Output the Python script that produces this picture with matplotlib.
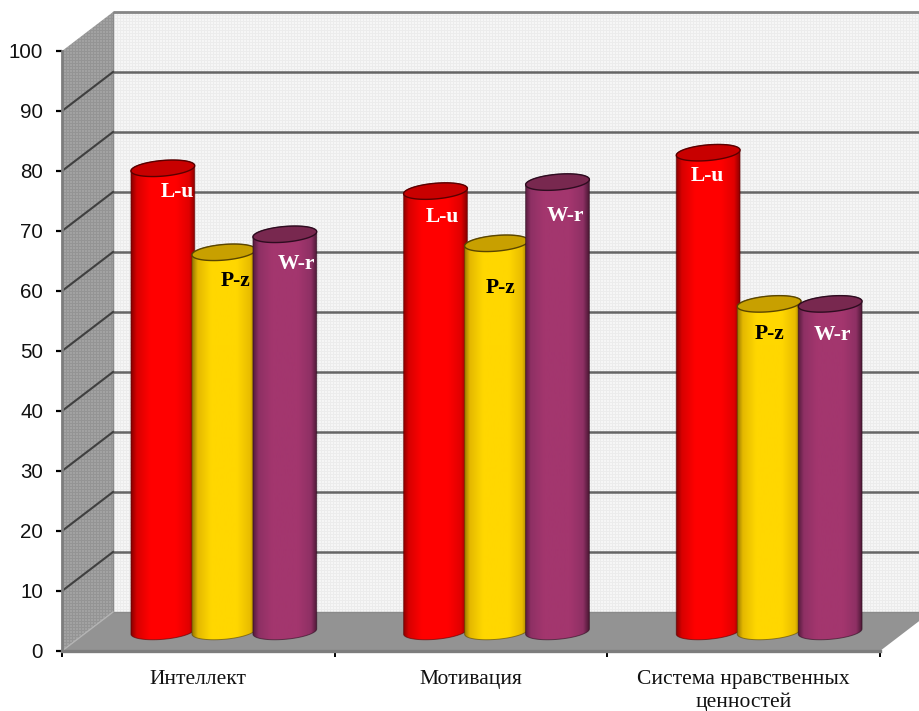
import numpy as np
import matplotlib
matplotlib.use("Agg")
import matplotlib.pyplot as plt
from matplotlib.patches import Polygon
from matplotlib.colors import LinearSegmentedColormap
from matplotlib.transforms import ScaledTranslation

categories = ["Интеллект", "Мотивация", "Система нравственных\nценностей"]
series_names = ["L-u", "P-z", "W-r"]
l_u = [77.2, 73.4, 79.8]
p_z = [63.2, 64.7, 54.6]
w_r = [66.2, 74.9, 54.6]
y_ticks = list(range(0, 101, 10))

# label offsets from bar-top centre, in pixels (right, down)
label_offsets = [
    [(14, 24), (12, 29), (12, 30)],
    [(7, 26), (4, 45), (8, 34)],
    [(-1, 23), (0, 30), (2, 31)],
]
label_colors = ["white", "black", "white"]

W, H = 920, 711
X0, X1, Y0, Y1 = 62, 880, 651, 51      # front plane in pixels
DX_PX, DY_PX = 51, 39                  # depth of the 3D box
PXU = (X1 - X0) / 3
PYU = (Y0 - Y1) / 100
DX, DY = DX_PX / PXU, DY_PX / PYU

fig = plt.figure(figsize=(W / 100, H / 100), dpi=100, facecolor="white")
ax = fig.add_axes([X0 / W, 1 - Y0 / H, (X1 - X0) / W, (Y0 - Y1) / H])
ax.set_xlim(0, 3)
ax.set_ylim(0, 100)
ax.set_facecolor("none")


def textured(poly_xy, base, dot, period=3, z=1):
    """Fill a polygon with a fine dotted texture."""
    patch = Polygon(poly_xy, closed=True, transform=ax.transData, fc="none", ec="none")
    ax.add_patch(patch)
    arr = np.ones((H, W, 3)) * np.array(matplotlib.colors.to_rgb(base))
    yy, xx = np.mgrid[0:H, 0:W]
    mask = (xx % period == 0) | (yy % period == 0)
    arr[mask] = matplotlib.colors.to_rgb(dot)
    xl = -X0 / PXU
    xr = (W - X0) / PXU
    yt = Y0 / PYU
    yb = (Y0 - H) / PYU
    im = ax.imshow(arr, extent=(xl, xr, yb, yt), aspect="auto",
                   interpolation="nearest", zorder=z)
    im.set_clip_box(fig.bbox)
    im.set_clip_path(patch)
    return im


# back wall, side wall, floor
xr_end = 3 + DX
textured([(DX, DY), (xr_end, DY), (xr_end, 100 + DY), (DX, 100 + DY)], "#f6f6f6", "#ececec", z=1)
textured([(0, 0), (DX, DY), (DX, 100 + DY), (0, 100)], "#a2a2a2", "#949494", z=1)
ax.add_patch(Polygon([(0, 0), (DX, DY), (xr_end, DY), (3, 0)], closed=True,
                     fc="#939393", ec="none", zorder=2, clip_on=False))

# gridlines
for v in y_ticks[1:-1]:
    ax.plot([DX, xr_end], [v + DY, v + DY], color="#666666", lw=1.8, zorder=2.2,
            clip_on=False, solid_capstyle="butt")
    ax.plot([0, DX], [v, v + DY], color="#404040", lw=1.5, zorder=2.2, clip_on=False)
ax.plot([DX, xr_end], [100 + DY, 100 + DY], color="#858585", lw=2.0, zorder=2.2,
        clip_on=False, solid_capstyle="butt")
ax.plot([DX, DX], [DY, 100 + DY], color="#8a8a8a", lw=1, zorder=2.1, clip_on=False)
ax.plot([DX, xr_end], [DY, DY], color="#8a8a8a", lw=1, zorder=2.1, clip_on=False)
ax.plot([0, DX], [0, DY], color="#b4b4b4", lw=1, zorder=2.2, clip_on=False)

# cylinders
BAR_A = 32.0
BAR_B = 7.8
TILT = np.deg2rad(5)
SPACING = 61 / PXU
styles = [
    (["#7a0000", "#d80000", "#ff0000", "#ff0000", "#e00000", "#800000"], "#c80000", "#5a0000"),
    (["#8a6a00", "#e4b800", "#ffd700", "#ffd700", "#e8bc00", "#8a6a00"], "#c8a000", "#5a4500"),
    (["#4c1836", "#8e3064", "#a3366e", "#a3366e", "#8e3064", "#45152f"], "#78284f", "#2e0c20"),
]
stops = [0, 0.1, 0.3, 0.7, 0.9, 1]


def ellipse(cx_px, cy_px, t):
    x = BAR_A * np.cos(t)
    y = BAR_B * np.sin(t)
    xr = x * np.cos(TILT) - y * np.sin(TILT)
    yr = x * np.sin(TILT) + y * np.cos(TILT)
    return cx_px + xr, cy_px + yr


def to_data(xpx, ypx):
    return np.column_stack([xpx / PXU, ypx / PYU])


values = [l_u, p_z, w_r]
z = 3.0
for c in range(len(categories)):
    for s in range(len(series_names)):
        v = values[s][c]
        cx = (c + 0.5 + DX / 2 + (s - 1) * SPACING) * PXU
        base_y = DY / 2 * PYU
        top_y = (v + DY / 2) * PYU
        t_low = np.linspace(np.pi, 2 * np.pi, 50)
        t_up = np.linspace(0, np.pi, 50)
        bx, by = ellipse(cx, base_y, t_low)
        tx, ty = ellipse(cx, top_y, t_up)
        body = to_data(np.r_[bx, tx], np.r_[by, ty])
        grad_colors, top_c, edge_c = styles[s]
        cmap = LinearSegmentedColormap.from_list("g", list(zip(stops, grad_colors)))
        patch = Polygon(body, closed=True, transform=ax.transData, fc="none", ec="none")
        ax.add_patch(patch)
        grad = np.linspace(0, 1, 128)[None, :]
        im = ax.imshow(grad, cmap=cmap, aspect="auto", interpolation="bilinear",
                       extent=((cx - BAR_A - 1) / PXU, (cx + BAR_A + 1) / PXU, 0, 100),
                       zorder=z)
        im.set_clip_box(fig.bbox)
        im.set_clip_path(patch)
        ax.add_patch(Polygon(body, closed=True, fc="none", ec=edge_c, lw=0.7, alpha=0.6,
                             zorder=z + 0.1, clip_on=False))
        ex, ey = ellipse(cx, top_y, np.linspace(0, 2 * np.pi, 100))
        ax.add_patch(Polygon(to_data(ex, ey), closed=True, fc=top_c, ec=edge_c, lw=1.0,
                             zorder=z + 0.2, clip_on=False))
        z += 0.5

# data labels
for c in range(len(categories)):
    for s in range(len(series_names)):
        v = values[s][c]
        ox, oy = label_offsets[c][s]
        ax.annotate(series_names[s],
                    xy=(c + 0.5 + DX / 2 + (s - 1) * SPACING, v + DY / 2),
                    xytext=(ox * 0.72, -oy * 0.72), textcoords="offset points",
                    ha="center", va="center", color=label_colors[s],
                    family="Liberation Serif", fontweight="bold", fontsize=15.5,
                    zorder=20, annotation_clip=False)

# axes
ax.set_ylim(0, 100)
ax.set_xlim(0, 3)
ax.set_yticks(y_ticks)
ax.set_yticklabels([str(v) for v in y_ticks], family="Liberation Sans", fontsize=14.8, color="#111111")
shift = ScaledTranslation(0, -2.2 / 72, fig.dpi_scale_trans)
for lab in ax.get_yticklabels():
    lab.set_transform(lab.get_transform() + shift)
ax.set_xticks([0, 1, 2, 3])
ax.set_xticklabels([])
ax.set_xticks([0.5, 1.5, 2.5], minor=True)
ax.set_xticklabels(categories, minor=True, family="Liberation Serif", fontsize=15.5, color="#111111",
                   linespacing=1.22)
ax.tick_params(axis="y", length=4, width=1.6, color="black", pad=9.5)
ax.tick_params(axis="x", which="major", length=4, width=1.4, color="black")
ax.tick_params(axis="x", which="minor", length=0, pad=14)
for side in ("top", "right"):
    ax.spines[side].set_visible(False)
ax.spines["left"].set_color("#7d7d7d")
ax.spines["left"].set_linewidth(2)
ax.spines["bottom"].set_color("#7d7d7d")
ax.spines["bottom"].set_linewidth(2.4)
ax.spines["left"].set_zorder(2.5)
ax.spines["bottom"].set_zorder(2.5)

fig.savefig("out.png", dpi=100)
